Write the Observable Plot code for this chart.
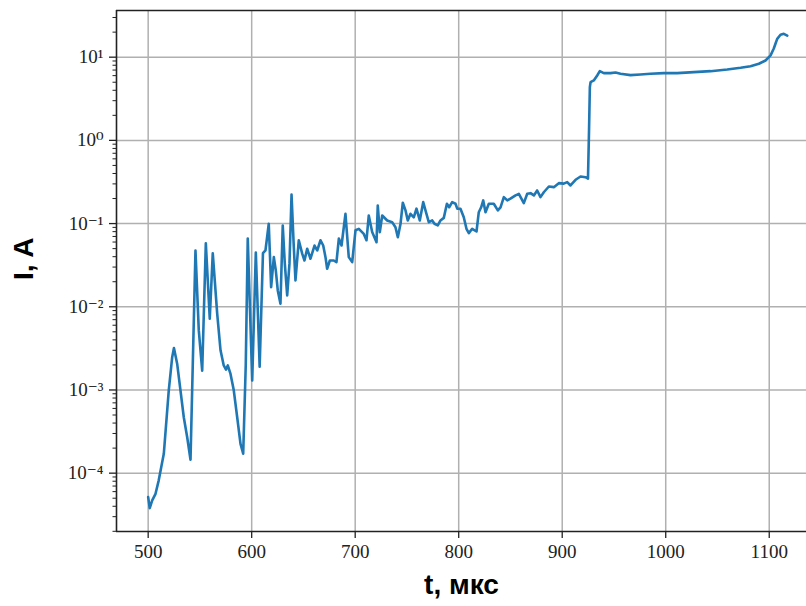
<!DOCTYPE html>
<html>
<head>
<meta charset="utf-8">
<script src="https://cdn.jsdelivr.net/npm/d3@7"></script>
<script src="https://cdn.jsdelivr.net/npm/@observablehq/plot@0.6"></script>
<style>
  html, body { margin: 0; padding: 0; background: #fff; }
  #chart svg { display: block; }
</style>
</head>
<body>
<div id="chart"></div>
<script>
// time, µs
const tValues = [500.0,501.5,503.9,507.1,510.2,515.1,519.9,523.2,524.9,528.0,
531.2,534.4,537.7,540.9,543.1,545.7,548.9,552.2,555.7,559.5,
562.4,566.7,569.9,573.0,575.2,576.9,579.5,582.7,586.0,589.2,
591.8,594.3,596.2,600.5,604.0,607.7,610.9,613.3,616.5,618.8,
621.4,623.3,625.2,627.8,630.0,632.0,634.3,636.5,638.5,640.7,
642.3,645.5,648.8,651.0,653.6,656.8,660.7,663.3,666.5,669.1,
671.3,672.9,675.5,679.3,681.9,684.2,686.8,690.6,693.8,697.1,
700.3,703.5,708.3,710.9,713.1,716.4,720.6,721.8,723.8,726.1,
730.9,735.7,738.9,741.2,743.8,746.0,748.6,750.8,753.4,756.6,
759.2,762.4,765.7,767.9,771.1,774.4,776.6,779.8,782.4,785.6,
788.6,790.8,793.7,796.9,798.6,801.7,804.9,807.5,809.8,813.0,
817.2,819.4,821.7,823.7,825.9,829.1,833.9,837.8,840.4,843.6,
846.9,850.0,854.9,858.1,862.9,866.2,869.4,872.6,875.8,879.0,
882.2,887.1,891.9,896.7,901.5,904.8,908.0,912.9,917.7,922.5,
924.9,925.9,926.7,927.4,930.5,933.8,936.3,940.2,946.7,951.5,
956.3,966.0,975.6,985.3,998.2,1011.1,1027.2,1043.3,1059.4,1072.3,
1081.9,1090.0,1096.4,1101.3,1104.4,1106.1,1107.7,1110.9,1114.1,1117.4];

// current, A
const iValues = [5.15e-5,3.8e-5,4.7e-5,5.65e-5,8.2e-5,1.71e-4,9.9e-4,2.48e-3,3.2e-3,2.07e-3,
9.9e-4,4.7e-4,2.7e-4,1.45e-4,2.07e-3,4.75e-2,5.2e-3,1.71e-3,5.8e-2,7.2e-3,
4.4e-2,8.2e-3,3.0e-3,1.97e-3,1.76e-3,1.97e-3,1.57e-3,9.9e-4,4.7e-4,2.25e-4,
1.71e-4,2.07e-3,6.6e-2,1.3e-3,4.5e-2,1.91e-3,4.4e-2,4.75e-2,9.95e-2,1.72e-2,
3.95e-2,2.73e-2,1.57e-2,1.09e-2,9.5e-2,3.3e-2,1.37e-2,3.3e-2,0.224,5.2e-2,
2.07e-2,6.3e-2,4.35e-2,3.6e-2,4.98e-2,3.78e-2,5.45e-2,4.75e-2,6.3e-2,5.45e-2,
3.95e-2,2.86e-2,3.6e-2,3.6e-2,3.44e-2,6.6e-2,5.45e-2,0.131,3.95e-2,3.44e-2,
8.3e-2,8.65e-2,7.5e-2,6.3e-2,0.125,7.9e-2,5.97e-2,0.165,7.9e-2,0.125,
0.109,0.104,9.05e-2,6.87e-2,9.95e-2,0.178,0.144,0.109,0.131,0.119,
0.151,0.109,0.181,0.144,0.104,0.109,9.95e-2,9.5e-2,0.109,0.117,
0.173,0.157,0.181,0.173,0.151,0.151,0.119,8.65e-2,7.67e-2,8.65e-2,
8.03e-2,0.137,0.157,0.190,0.137,0.173,0.173,0.144,0.157,0.208,
0.190,0.199,0.218,0.228,0.176,0.228,0.232,0.218,0.250,0.208,
0.238,0.279,0.274,0.306,0.302,0.315,0.287,0.336,0.368,0.361,
0.348,1.31,4.36,5.01,5.25,6.03,6.79,6.43,6.43,6.55,
6.31,6.08,6.19,6.31,6.43,6.43,6.61,6.79,7.12,7.46,
7.80,8.33,9.13,10.5,12.7,14.6,16.6,18.6,19.1,18.2];

const xTicks = [500, 600, 700, 800, 900, 1000, 1100];
const yTicks = [1e-4, 1e-3, 1e-2, 1e-1, 1e0, 1e1];
const yTickLabels = ["10⁻⁴", "10⁻³", "10⁻²", "10⁻¹", "10⁰", "10¹"];
const yMinorTicks = [];
for (let k = -5; k <= 1; k++) for (let m = 2; m <= 9; m++) yMinorTicks.push(m * Math.pow(10, k));

const xLabel = "t, мкс";
const yLabel = "I, A";

const data = tValues.map((t, i) => ({t, I: iValues[i]}));

const xDomain = [469.4, 1136];
const yDomain = [1.99e-5, 36.4];
const minorInDomain = yMinorTicks.filter(v => v >= yDomain[0] && v <= yDomain[1]);

const serif = "'Liberation Serif', 'DejaVu Serif', serif";
const sans = "'Liberation Sans', Arial, sans-serif";

const chart = Plot.plot({
  width: 806,
  height: 606,
  marginLeft: 116,
  marginRight: 0,
  marginTop: 10,
  marginBottom: 75,
  style: {background: "#fff", overflow: "visible"},
  x: {domain: xDomain},
  y: {type: "log", domain: yDomain},
  marks: [
    Plot.gridX(xTicks, {stroke: "#b0b0b0", strokeOpacity: 1, strokeWidth: 1.5}),
    Plot.gridY(yTicks, {stroke: "#b0b0b0", strokeOpacity: 1, strokeWidth: 1.5}),
    Plot.line(data, {x: "t", y: "I", stroke: "#1f77b4", strokeWidth: 2.6, strokeLinejoin: "round", strokeLinecap: "round"}),
    Plot.ruleX([xDomain[0]], {stroke: "#222", strokeWidth: 1.6}),
    Plot.ruleY([yDomain[0]], {stroke: "#222", strokeWidth: 1.6}),
    Plot.ruleY([yDomain[1]], {stroke: "#222", strokeWidth: 1.6}),
    Plot.axisX({ticks: xTicks, tickSize: 7, tickPadding: 6, tickFormat: d => String(d),
      fontFamily: serif, fontSize: 19, label: null, stroke: "#222", strokeWidth: 1.3, color: "#222"}),
    Plot.axisY({ticks: yTicks, tickSize: 7, tickPadding: 6, tickFormat: d => yTickLabels[yTicks.indexOf(d)] ?? "",
      fontFamily: serif, fontSize: 19, label: null, stroke: "#222", strokeWidth: 1.3, color: "#222"}),
    Plot.axisY({ticks: minorInDomain, tickSize: 3.5, tickFormat: () => "", label: null, stroke: "#222", strokeWidth: 1}),
    Plot.text([xLabel], {frameAnchor: "bottom", dy: 62, fontSize: 28, fontWeight: "bold", fontFamily: sans, fill: "#000"}),
    Plot.text([yLabel], {frameAnchor: "left", dx: -92, dy: 9, rotate: -90, fontSize: 28, fontWeight: "bold", fontFamily: sans, fill: "#000"})
  ]
});

document.getElementById("chart").appendChild(chart);
</script>
</body>
</html>
